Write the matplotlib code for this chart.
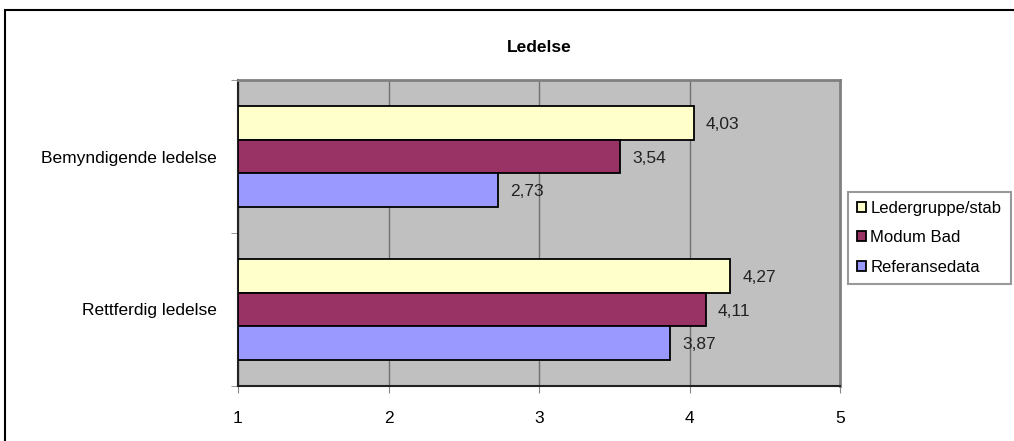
import numpy as np
import matplotlib
matplotlib.use("Agg")
from matplotlib import pyplot as plt
from matplotlib.patches import Rectangle

plt.rcParams['font.family'] = ['Liberation Sans', 'DejaVu Sans']

categories = ['Bemyndigende ledelse', 'Rettferdig ledelse']
series = ['Ledergruppe/stab', 'Modum Bad', 'Referansedata']
ledergruppe = [4.03, 4.27]
modum = [3.54, 4.11]
referanse = [2.73, 3.87]
colors = ['#FFFFCC', '#993366', '#9999FF']

fig = plt.figure(figsize=(10.14, 4.41), dpi=100)
fig.patches.append(Rectangle((5 / 1014, -0.2), 1.2, 1.2 - 10 / 441,
                             transform=fig.transFigure, fill=False,
                             edgecolor='black', linewidth=1.5))
ax = fig.add_axes([238 / 1014, 1 - 386 / 441, (840 - 238) / 1014, (386 - 80) / 441])
ax.set_facecolor('#C0C0C0')

y = np.arange(len(categories))
h = 0.222
for i, (vals, col) in enumerate(zip([ledergruppe, modum, referanse], colors)):
    pos = y + (i - 1) * h
    ax.barh(pos, np.array(vals) - 1, left=1, height=h, color=col,
            edgecolor='black', linewidth=1.3, label=series[i], zorder=3)
    for p, v in zip(pos, vals):
        ax.text(v + 0.08, p + 0.01, f'{v:.2f}'.replace('.', ','), va='center', ha='left',
                fontsize=12.5, color='#222222', zorder=4)

ax.set_xlim(1, 5)
ax.set_ylim(1.5, -0.5)
ax.set_xticks([1, 2, 3, 4, 5])
ax.set_xticklabels(['1', '2', '3', '4', '5'], fontsize=12.5)
ax.set_yticks(y)
ax.set_yticklabels(categories, fontsize=12.5)
ax.tick_params(axis='y', length=0, pad=15)
ax.tick_params(axis='x', length=5, pad=13, color='#888888')
ax.set_yticks([-0.5, 0.5, 1.5], minor=True)
ax.tick_params(axis='y', which='minor', length=5, color='#888888')
ax.xaxis.grid(True, color='#707070', linewidth=1, zorder=1)
ax.set_axisbelow(True)

for s in ['top', 'right']:
    ax.spines[s].set_color('#808080')
    ax.spines[s].set_linewidth(2)
for s in ['left', 'bottom']:
    ax.spines[s].set_color('#222222')
    ax.spines[s].set_linewidth(1.5)

ax.set_title('Ledelse', fontsize=12.5, fontweight='bold', pad=20)

leg = fig.legend(loc='upper left', bbox_to_anchor=(848 / 1014, 1 - 192 / 441),
                 fontsize=12, frameon=True, fancybox=False, edgecolor='#808080',
                 handlelength=0.55, handleheight=0.55, handletextpad=0.25,
                 labelspacing=0.85, borderpad=0.55, borderaxespad=0)
leg.get_frame().set_linewidth(1.5)

fig.savefig('out.png', dpi=100)
